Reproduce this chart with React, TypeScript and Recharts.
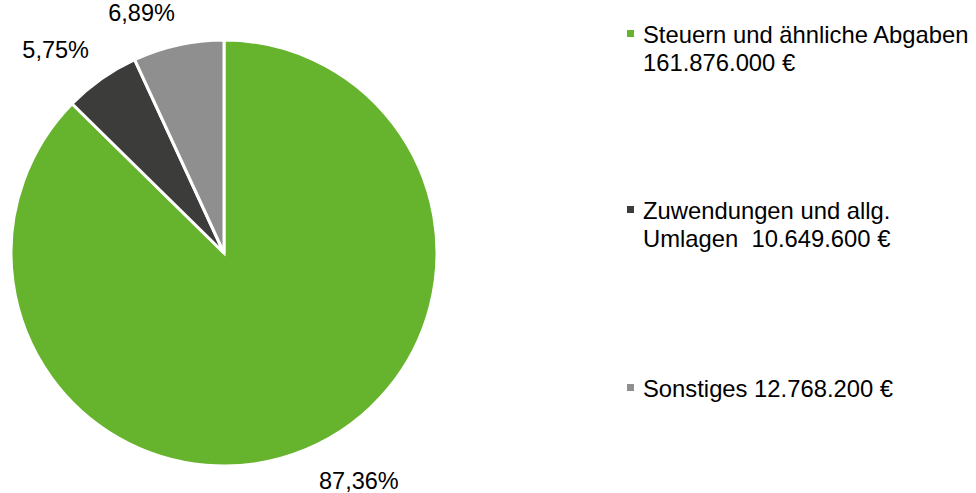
import React from 'react';
import { PieChart, Pie, Cell, Legend } from 'recharts';

// Haushalt: Erträge nach Art
const categories = ['Steuern und ähnliche Abgaben', 'Zuwendungen und allg. Umlagen', 'Sonstiges'];
const amounts = [161876000, 10649600, 12768200];
const legendLabels = [
  'Steuern und ähnliche Abgaben\n161.876.000 €',
  'Zuwendungen und allg.\nUmlagen  10.649.600 €',
  'Sonstiges 12.768.200 €',
];
const colors = ['#66B32E', '#3C3C3B', '#8F8F8F'];

const data = categories.map((name, i) => ({ name, value: amounts[i], label: legendLabels[i] }));

const FONT = '"Liberation Sans", Arial, sans-serif';
const RAD = Math.PI / 180;
const legendTops = [21, 197, 375];

const renderLabel = (props: any) => {
  const { cx, cy, midAngle, outerRadius, percent } = props;
  const r = outerRadius + 25;
  const x = cx + r * Math.cos(-midAngle * RAD);
  const y = cy + r * Math.sin(-midAngle * RAD);
  const txt = (percent * 100).toFixed(2).replace('.', ',') + '%';
  return (
    <text
      x={x + (x > cx ? 3 : 2)}
      y={y}
      fill="#000"
      fontSize={23.5}
      fontFamily={FONT}
      textAnchor={x > cx ? 'start' : 'end'}
      dominantBaseline={y > cy ? 'hanging' : 'auto'}
    >
      {txt}
    </text>
  );
};

const renderLegend = () => (
  <div style={{ position: 'relative', width: 350, height: 493, fontFamily: FONT }}>
    {data.map((d, i) => (
      <div key={d.name} style={{ position: 'absolute', left: 0, top: legendTops[i] }}>
        <span
          style={{
            position: 'absolute',
            left: 1,
            top: 9,
            width: 7,
            height: 7,
            background: colors[i],
          }}
        />
        <div
          style={{
            marginLeft: 17,
            fontSize: 23.8,
            lineHeight: '28px',
            color: '#000',
            whiteSpace: 'pre',
          }}
        >
          {d.label}
        </div>
      </div>
    ))}
  </div>
);

export default function App() {
  return (
    <div style={{ width: 976, height: 493, background: '#fff' }}>
      <style>{'body{margin:0}'}</style>
      <PieChart width={976} height={493} margin={{ top: 0, right: 0, bottom: 0, left: 0 }}>
        <Pie
          data={data}
          dataKey="value"
          nameKey="name"
          cx={224}
          cy={253}
          outerRadius={213}
          startAngle={90}
          endAngle={-270}
          stroke="#fff"
          strokeWidth={3}
          label={renderLabel}
          labelLine={false}
          isAnimationActive={false}
        >
          {data.map((d, i) => (
            <Cell key={d.name} fill={colors[i]} />
          ))}
        </Pie>
        <Legend
          content={renderLegend}
          wrapperStyle={{ left: 626, top: 0, width: 350, height: 493 }}
        />
      </PieChart>
    </div>
  );
}
